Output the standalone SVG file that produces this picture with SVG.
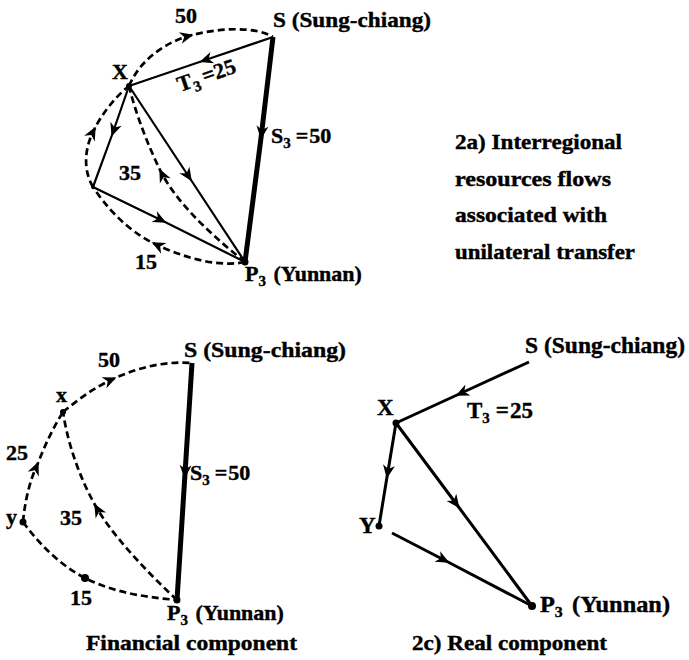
<svg xmlns="http://www.w3.org/2000/svg" width="689" height="660" viewBox="0 0 689 660">
<style>
text{font-family:"Liberation Serif","Times New Roman",serif;font-weight:bold;fill:#000;stroke:#000;stroke-width:0.4}
.lbl{font-size:22px}
.big{font-size:23px}
.num{font-size:22px}
.cap{font-size:21px}
.sub{font-size:15px}
.thin{fill:none;stroke:#000;stroke-width:2.2}
.mid{fill:none;stroke:#000;stroke-width:3}
.thick{fill:none;stroke:#000;stroke-width:5}
.dash{fill:none;stroke:#000;stroke-width:2.7;stroke-dasharray:7 4}
.dot{fill:#000}
</style>
<defs>
<marker id="arr" markerUnits="userSpaceOnUse" viewBox="-13 -7 15 14" markerWidth="15" markerHeight="14" refX="0" refY="0" orient="auto">
<path d="M1.5,0 L-12,-6 L-8,0 L-12,6 Z" fill="#000" stroke="none"/>
</marker>
</defs>
<rect width="689" height="660" fill="#fff"/>

<g id="connectors">
<!-- 2a -->
<path class="thin" d="M273,37 L201,61.5 L129,86" marker-mid="url(#arr)"/>
<path class="thin" d="M129,86 L112,135 L93,187" marker-mid="url(#arr)"/>
<path class="thin" d="M93,187 L165,222 L245,262" marker-mid="url(#arr)"/>
<path class="thin" d="M129,86 L191,180 L245,262" marker-mid="url(#arr)"/>
<path class="thick" d="M273,37 L261,138 L245,262" marker-mid="url(#arr)"/>
<path class="dash" d="M129,86 C140,60 165,42 192,35 C220,28 255,26 273,37" marker-mid="url(#arr)"/>
<path class="dash" d="M93,187 C83,170 84,148 95,128 C102,114 115,97 129,86" marker-mid="url(#arr)"/>
<path class="dash" d="M245,262 C215,268 180,256 153,243 C125,229 105,205 93,187" marker-mid="url(#arr)"/>
<path class="dash" d="M245,262 C205,230 175,200 160,170 C148,145 136,115 129,86" marker-mid="url(#arr)"/>
<!-- 2b -->
<path class="thick" d="M192,363 L184.8,477 L177,600" marker-mid="url(#arr)"/>
<path class="dash" d="M63,412 C80,398 97,386 115,378 C140,367 165,361 192,363" marker-mid="url(#arr)"/>
<path class="dash" d="M23,522 C25,500 30,480 38,463 C45,445 53,428 63,412" marker-mid="url(#arr)"/>
<path class="dash" d="M177,600 C145,570 112,535 95,505 C80,478 68,445 63,412" marker-mid="url(#arr)"/>
<path class="dash" d="M23,522 C40,545 60,565 85,578 C115,593 145,597 177,600"/>
<!-- 2c -->
<path class="mid" d="M529,362 L457,395 L396,423" marker-mid="url(#arr)"/>
<path class="mid" d="M396,423 L387,477 L379,526" marker-mid="url(#arr)"/>
<path class="mid" d="M392,533 L448,562 L532,606" marker-mid="url(#arr)"/>
<path class="mid" d="M396,423 L458.6,507 L532,606" marker-mid="url(#arr)"/>
</g>

<!-- 2a nodes -->
<g id="a-S">
<text class="lbl" x="273" y="27" textLength="158" lengthAdjust="spacingAndGlyphs">S (Sung-chiang)</text>
</g>
<g id="a-X">
<circle class="dot" cx="129" cy="86" r="3"/>
<text class="lbl" x="112" y="79">X</text>
</g>
<g id="a-Y">
<circle class="dot" cx="93" cy="187" r="2"/>
</g>
<g id="a-P3">
<circle class="dot" cx="245" cy="262" r="3.5"/>
<text class="lbl" x="245" y="281">P<tspan class="sub" dy="5">3</tspan><tspan dy="-5" dx="2"> (Yunnan)</tspan></text>
</g>
<g id="a-labels">
<text class="num" x="175" y="23">50</text>
<text class="lbl" x="180" y="92" transform="rotate(-19 180 92)">T<tspan class="sub" dy="5">3</tspan><tspan dy="-5" dx="4">=</tspan><tspan>25</tspan></text>
<text class="lbl" x="271" y="143">S<tspan class="sub" dy="5">3</tspan><tspan dy="-5" dx="5">=</tspan><tspan dx="1">50</tspan></text>
<text class="num" x="119" y="180">35</text>
<text class="num" x="135" y="269">15</text>
</g>
<g id="a-caption">
<text class="cap" x="455" y="149" textLength="167" lengthAdjust="spacingAndGlyphs">2a) Interregional</text>
<text class="cap" x="455" y="186" textLength="156" lengthAdjust="spacingAndGlyphs">resources flows</text>
<text class="cap" x="455" y="222" textLength="152" lengthAdjust="spacingAndGlyphs">associated with</text>
<text class="cap" x="455" y="259" textLength="180" lengthAdjust="spacingAndGlyphs">unilateral transfer</text>
</g>

<!-- 2b nodes -->
<g id="b-S">
<text class="lbl" x="184" y="357" textLength="162" lengthAdjust="spacingAndGlyphs">S (Sung-chiang)</text>
</g>
<g id="b-x">
<circle class="dot" cx="63" cy="412" r="3"/>
<text class="num" x="56" y="402">x</text>
</g>
<g id="b-y">
<circle class="dot" cx="23" cy="522" r="3.5"/>
<text class="num" x="6" y="524">y</text>
</g>
<g id="b-mid">
<circle class="dot" cx="85" cy="578" r="4"/>
</g>
<g id="b-P3">
<circle class="dot" cx="177" cy="600" r="3.5"/>
<text class="lbl" x="167" y="620">P<tspan class="sub" dy="5">3</tspan><tspan dy="-5" dx="2"> (Yunnan)</tspan></text>
</g>
<g id="b-labels">
<text class="num" x="98" y="367">50</text>
<text class="num" x="6" y="460">25</text>
<text class="num" x="60" y="525">35</text>
<text class="num" x="70" y="605">15</text>
<text class="lbl" x="190" y="480">S<tspan class="sub" dy="5">3</tspan><tspan dy="-5" dx="5">=</tspan><tspan dx="1">50</tspan></text>
<text class="cap" x="86" y="650" textLength="211" lengthAdjust="spacingAndGlyphs">Financial component</text>
</g>

<!-- 2c nodes -->
<g id="c-S">
<text class="big" x="525" y="353" textLength="160" lengthAdjust="spacingAndGlyphs">S (Sung-chiang)</text>
</g>
<g id="c-X">
<circle class="dot" cx="396" cy="423" r="3.5"/>
<text class="big" x="377" y="415">X</text>
</g>
<g id="c-Y">
<circle class="dot" cx="379" cy="526" r="3.5"/>
<text class="big" x="359" y="533">Y</text>
</g>
<g id="c-P3">
<circle class="dot" cx="532" cy="606" r="4"/>
<text class="big" x="540" y="612" textLength="130" lengthAdjust="spacingAndGlyphs">P<tspan class="sub" dy="5">3</tspan><tspan dy="-5" dx="3"> (Yunnan)</tspan></text>
</g>
<g id="c-labels">
<text class="big" x="467" y="418">T<tspan class="sub" dy="5">3</tspan><tspan dy="-5" dx="6">=</tspan><tspan dx="1">25</tspan></text>
<text class="cap" x="412" y="650" textLength="195" lengthAdjust="spacingAndGlyphs">2c) Real component</text>
</g>
</svg>
